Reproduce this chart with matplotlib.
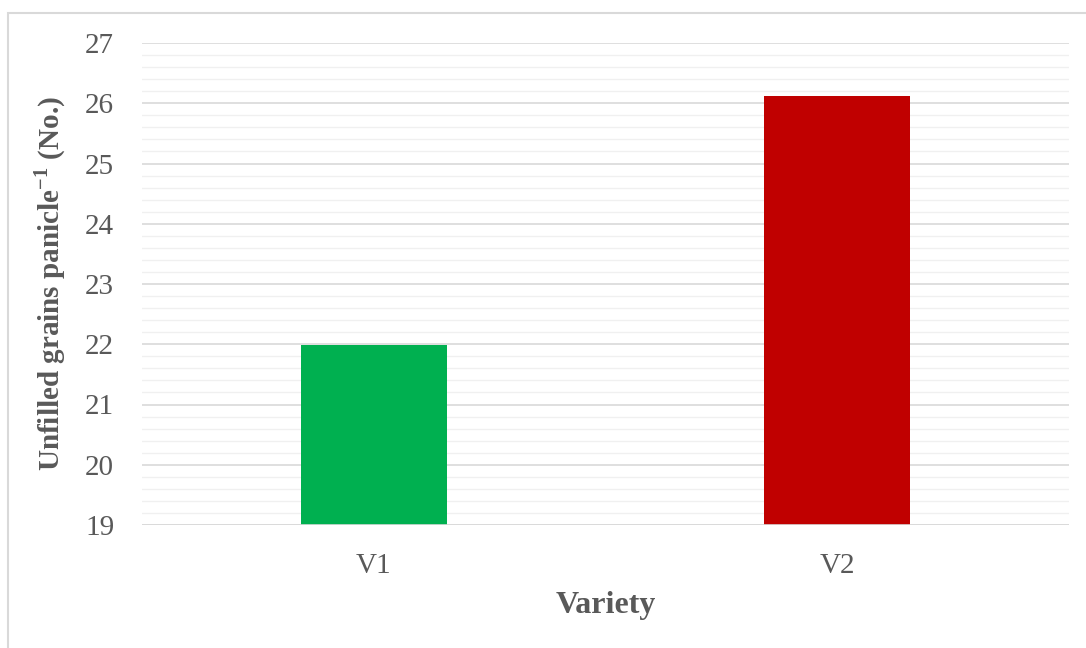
import matplotlib
matplotlib.use("Agg")
import matplotlib.pyplot as plt
from matplotlib.patches import Rectangle
from matplotlib.ticker import MultipleLocator

categories = ["V1", "V2"]
values = [21.98, 26.12]
colors = ["#00B050", "#C00000"]
y_ticks = [19, 20, 21, 22, 23, 24, 25, 26, 27]

plt.rcParams['font.family'] = ['Liberation Serif', 'DejaVu Serif']
plt.rcParams['mathtext.fontset'] = 'custom'
plt.rcParams['mathtext.rm'] = 'Liberation Serif'
plt.rcParams['mathtext.bf'] = 'Liberation Serif:bold'
text_color = "#595959"

fig = plt.figure(figsize=(10.86, 6.48), dpi=100)
ax = fig.add_axes([142/1086, 1 - 525/648, (1069-142)/1086, (525-43)/648])

x = range(len(categories))
ax.bar(x, [v - 19 for v in values], bottom=19, width=0.315, color=colors, zorder=3)

ax.set_xlim(-0.5, 1.5)
ax.set_ylim(19, 27)
ax.set_yticks(y_ticks)
ax.yaxis.set_minor_locator(MultipleLocator(0.2))
ax.grid(axis='y', which='major', color='#D9D9D9', linewidth=1.2, zorder=0)
ax.grid(axis='y', which='minor', color='#F0F0F0', linewidth=1.0, zorder=0)
ax.set_xticks(list(x))
ax.set_xticklabels(categories)
ax.tick_params(axis='both', which='both', length=0, labelsize=21, colors=text_color)
ax.tick_params(axis='y', pad=20)
ax.tick_params(axis='x', pad=20)
for s in ax.spines.values():
    s.set_visible(False)
ax.axhline(19, color='#D9D9D9', linewidth=1.2, zorder=4)

ax.set_xlabel("Variety", fontsize=23, fontweight='bold', color=text_color, labelpad=9)
ax.set_ylabel("Unfilled grains panicle$^{\\mathbf{-1}}$ (No.)", fontsize=21, fontweight='bold',
              color=text_color, labelpad=12)

fig.patches.append(Rectangle((8/1086, -0.1), 1.2, 1 - 13/648 + 0.1, transform=fig.transFigure,
                             fill=False, edgecolor='#D9D9D9', linewidth=1.5))

fig.savefig("out.png", dpi=100, facecolor='white')
